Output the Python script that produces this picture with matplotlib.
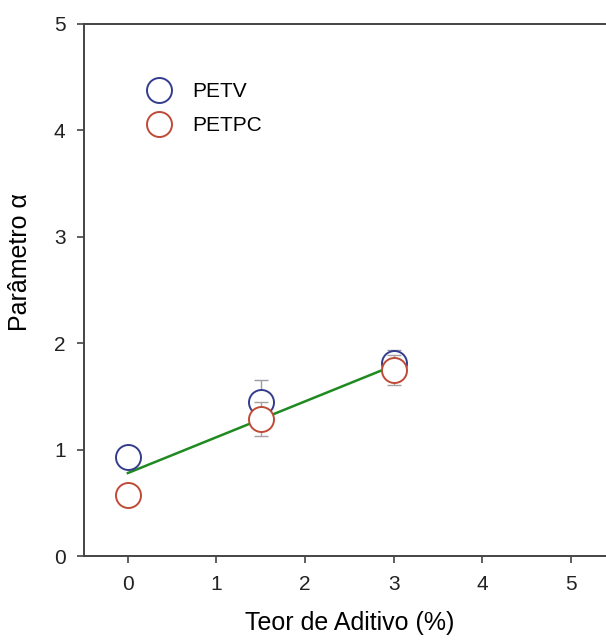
import matplotlib
matplotlib.use('Agg')
import matplotlib.pyplot as plt

plt.rcParams['font.family'] = ['Liberation Sans', 'DejaVu Sans']

teor = [0, 1.5, 3]
petv = [0.93, 1.45, 1.81]
petv_err = [0.02, 0.20, 0.13]
petpc = [0.57, 1.29, 1.75]
petpc_err = [0.02, 0.16, 0.14]
fit_x = [0, 3]
fit_y = [0.78, 1.79]

fig = plt.figure(figsize=(6.06, 6.41), dpi=100)
ax = fig.add_axes([0.138, 0.1326, 0.877, 0.830])

ax.plot(fit_x, fit_y, '-', color='#1f8a1f', lw=1.8, zorder=2)
ax.errorbar(teor, petv, yerr=petv_err, fmt='none', ecolor='#9a9aa8', elinewidth=1, capsize=5, zorder=2.5)
ax.plot(teor, petv, 'o', ms=18, mfc='white', mec='#343c8e', mew=1.4, label='PETV', zorder=3)
ax.errorbar(teor, petpc, yerr=petpc_err, fmt='none', ecolor='#a8a0a0', elinewidth=1, capsize=5, zorder=3.5)
ax.plot(teor, petpc, 'o', ms=18, mfc='white', mec='#bf4a36', mew=1.4, label='PETPC', zorder=4)

ax.set_xlim(-0.5, 5.5)
ax.set_ylim(0, 5)
ax.set_xticks([0, 1, 2, 3, 4, 5])
ax.set_yticks([0, 1, 2, 3, 4, 5])
ax.tick_params(direction='out', length=5, width=1.2, labelsize=15, colors='#444444', labelcolor='#222222')
ax.tick_params(axis='x', pad=9)
ax.tick_params(axis='y', pad=8)
for s in ['left', 'bottom', 'top']:
    ax.spines[s].set_color('#444444')
    ax.spines[s].set_linewidth(1.4)
ax.spines['right'].set_visible(False)

ax.set_xlabel('Teor de Aditivo (%)', fontsize=18, labelpad=12)
ax.set_ylabel('Parâmetro α', fontsize=18)
ax.yaxis.set_label_coords(-0.097, 0.553)

ax.legend(loc='upper left', bbox_to_anchor=(0.099, 0.91), frameon=False, fontsize=15,
          borderpad=0, handlelength=1.2, handletextpad=1.0, labelspacing=0.7)

fig.savefig('out.png', dpi=100)
